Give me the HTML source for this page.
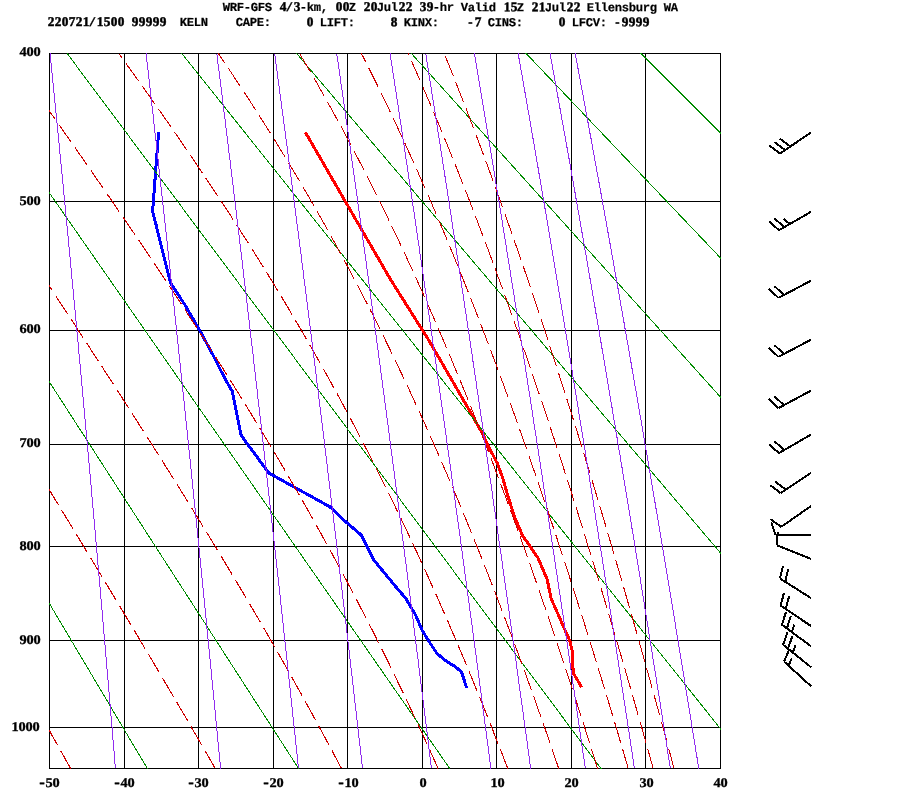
<!DOCTYPE html>
<html lang="en"><head><meta charset="utf-8"><title>WRF-GFS sounding Ellensburg WA</title>
<style>
html,body{margin:0;padding:0;background:#fff;}
body{width:900px;height:800px;overflow:hidden;}
svg{display:block;}
text{font-family:"Liberation Mono","DejaVu Sans Mono",monospace;font-weight:bold;font-size:12.8px;fill:#000;white-space:pre;}
.d{font-family:"Liberation Serif","DejaVu Serif",serif;font-size:13.3px;stroke:#000;stroke-width:.3px;}
.m{font-family:"Liberation Mono","DejaVu Sans Mono",monospace;font-size:14px;}
.td{font-family:"Liberation Serif","DejaVu Serif",serif;font-size:13.3px;stroke:#000;stroke-width:.45px;}
.tm{font-size:12.2px;stroke:#000;stroke-width:.2px;}
</style></head>
<body>
<svg width="900" height="800" viewBox="0 0 900 800" shape-rendering="crispEdges">
<rect width="900" height="800" fill="#fff"/>
<defs><clipPath id="c"><rect x="49" y="53" width="672" height="716"/></clipPath></defs>
<path stroke="#000" stroke-width="1" fill="none" d="M49 53.5H721M49 201.5H721M49 330.5H721M49 444.5H721M49 546.5H721M49 640.5H721M49 727.5H721M49 768.5H721M49.5 53V769M124.5 53V769M198.5 53V769M273.5 53V769M347.5 53V769M422.5 53V769M496.5 53V769M571.5 53V769M645.5 53V769M720.5 53V769"/>
<path fill="none" stroke="#ff0000" stroke-width="3" stroke-linejoin="round" d="M305.5 132.5 L351.3 211.8 L391.2 280.6 L428.4 339.6 L447.5 372.5 L470.0 411.5 L483.5 435.5 L487.5 444.4 L497.5 463.8 L503.0 478.8 L507.5 495.0 L515.0 518.0 L522.5 535.6 L530.0 546.2 L538.0 558.0 L547.0 578.8 L551.2 598.8 L556.2 610.0 L564.4 628.8 L570.0 641.2 L572.5 652.5 L572.5 665.0 L573.8 673.8 L581.6 687.3"/>
<path fill="none" stroke="#0000ff" stroke-width="3" stroke-linejoin="round" d="M158.6 131.8 L152.6 211.5 L156.1 225.0 L162.2 250.0 L168.5 275.0 L170.5 283.0 L185.0 305.0 L199.8 330.5 L213.0 355.0 L225.6 380.0 L232.2 391.2 L241.2 435.5 L268.8 473.0 L330.0 506.9 L345.0 521.2 L361.2 535.0 L373.8 560.0 L397.5 588.8 L405.6 598.1 L415.6 615.0 L422.5 631.0 L429.0 641.5 L437.0 653.5 L446.0 661.0 L455.0 666.5 L461.5 672.0 L466.7 688.0"/>
<path fill="none" stroke="#000" stroke-width="2" d="M811.0 132.5 L780.0 153.5M780.0 153.5 L769.4 145.6M785.1 150.0 L774.6 142.1M790.3 146.5 L779.7 138.6M811.0 211.8 L779.0 230.2M779.0 230.2 L769.1 221.5M784.4 227.1 L774.4 218.4M789.7 224.0 L783.9 218.9M811.0 280.6 L778.5 297.9M778.5 297.9 L768.8 288.9M784.0 295.0 L774.3 286.0M811.0 339.6 L778.5 356.9M778.5 356.9 L768.8 347.9M784.0 354.0 L774.3 345.0M811.0 390.6 L778.5 408.1M778.5 408.1 L768.8 399.1M784.0 405.2 L774.3 396.2M811.0 434.6 L779.0 453.1M779.0 453.1 L769.0 444.4M784.4 450.0 L774.4 441.3M811.0 472.9 L780.6 493.1M780.6 493.1 L770.1 485.1M785.8 489.7 L775.3 481.7M811.0 506.0 L781.2 526.9M781.2 526.9 L770.6 519.2M811.0 535.0 L775.6 535.0M775.6 535.0 L771.3 522.5M811.0 559.0 L776.9 545.2M776.9 545.2 L777.6 532.1M811.0 598.1 L780.0 578.5M780.0 578.5 L783.0 565.7M785.2 581.8 L788.3 569.0M811.0 626.0 L780.6 605.6M780.6 605.6 L784.0 592.8M785.7 609.1 L789.1 596.3M811.0 646.2 L781.9 624.8M781.9 624.8 L785.9 612.2M786.9 628.4 L790.8 615.8M791.9 632.1 L794.2 624.7M811.0 667.2 L783.1 644.8M783.1 644.8 L787.6 632.3M787.9 648.6 L792.4 636.2M792.8 652.5 L795.4 645.2M811.0 686.2 L784.0 661.5M784.0 661.5 L789.3 649.4M788.6 665.7 L791.7 658.5"/>
<g clip-path="url(#c)" fill="none" stroke-width="1">
<path stroke="#008b00" d="M-296.6 20.7 L156.8 784.5M-183.5 20.7 L308.9 784.5M-70.4 20.7 L460.9 784.5M42.7 20.7 L612.9 784.5M155.7 20.7 L764.9 784.5M268.8 20.7 L917.0 784.5M381.9 20.7 L1069.0 784.5M495.0 20.7 L1221.0 784.5M608.1 20.7 L1373.0 784.5"/>
<path stroke="#cd0000" stroke-width="1.1" stroke-dasharray="21.5 6.5" stroke-dashoffset="1" d="M70.6 768.5 L67.8 763.5 L65.0 758.5 L62.2 753.5 L59.4 748.5 L56.6 743.5 L53.8 738.5 L51.0 733.5 L48.2 728.5 L45.4 723.5 L42.6 718.5 L39.7 713.5 L36.9 708.5 L34.1 703.5 L31.3 698.5 L28.5 693.5 L25.7 688.5 L22.8 683.5 L20.0 678.5 L17.2 673.5 L14.4 668.5 L11.6 663.5 L8.7 658.5 L5.9 653.5 L3.1 648.5 L0.3 643.5 L-2.6 638.5 L-5.4 633.5 L-8.2 628.5 L-11.0 623.5 L-13.9 618.5 L-16.7 613.5 L-19.5 608.5 L-22.3 603.5 L-25.2 598.5 L-28.0 593.5 L-30.8 588.5 L-33.7 583.5 L-36.5 578.5 L-39.3 573.5 L-42.2 568.5 L-45.0 563.5 L-47.8 558.5 L-50.6 553.5 L-53.5 548.5 L-56.3 543.5 L-59.1 538.5 L-62.0 533.5 L-64.8 528.5 L-67.6 523.5 L-70.5 518.5 L-73.3 513.5 L-76.2 508.5 L-79.0 503.5 L-81.8 498.5 L-84.7 493.5 L-87.5 488.5 L-90.3 483.5 L-93.2 478.5 L-96.0 473.5 L-98.8 468.5 L-101.7 463.5 L-104.5 458.5 L-107.4 453.5 L-110.2 448.5 L-113.0 443.5 L-115.9 438.5 L-118.7 433.5 L-121.5 428.5 L-124.4 423.5 L-127.2 418.5 L-130.1 413.5 L-132.9 408.5 L-135.7 403.5 L-138.6 398.5 L-141.4 393.5 L-144.3 388.5 L-147.1 383.5 L-149.9 378.5 L-152.8 373.5 L-155.6 368.5 L-158.4 363.5 L-161.3 358.5 L-164.1 353.5 L-167.0 348.5 L-169.8 343.5 L-172.6 338.5 L-175.5 333.5 L-178.3 328.5 L-181.2 323.5 L-184.0 318.5 L-186.8 313.5 L-189.7 308.5 L-192.5 303.5 L-195.4 298.5 L-198.2 293.5 L-201.0 288.5 L-203.9 283.5 L-206.7 278.5 L-209.6 273.5 L-212.4 268.5 L-215.2 263.5 L-218.1 258.5 L-220.9 253.5 L-223.8 248.5 L-226.6 243.5 L-229.5 238.5 L-232.3 233.5 L-235.1 228.5 L-238.0 223.5 L-240.8 218.5 L-243.7 213.5 L-246.5 208.5 L-249.3 203.5 L-252.2 198.5 L-255.0 193.5 L-257.9 188.5 L-260.7 183.5 L-263.5 178.5 L-266.4 173.5 L-269.2 168.5 L-272.1 163.5 L-274.9 158.5 L-277.7 153.5 L-280.6 148.5 L-283.4 143.5 L-286.3 138.5 L-289.1 133.5 L-292.0 128.5 L-294.8 123.5 L-297.6 118.5 L-300.5 113.5 L-303.3 108.5 L-306.2 103.5 L-309.0 98.5 L-311.8 93.5 L-314.7 88.5 L-317.5 83.5 L-320.4 78.5 L-323.2 73.5 L-326.0 68.5 L-328.9 63.5 L-331.7 58.5 L-334.6 53.5M215.2 768.5 L212.4 763.5 L209.5 758.5 L206.6 753.5 L203.7 748.5 L200.8 743.5 L197.9 738.5 L195.0 733.5 L192.1 728.5 L189.2 723.5 L186.3 718.5 L183.4 713.5 L180.4 708.5 L177.5 703.5 L174.6 698.5 L171.6 693.5 L168.7 688.5 L165.7 683.5 L162.8 678.5 L159.8 673.5 L156.9 668.5 L153.9 663.5 L151.0 658.5 L148.0 653.5 L145.0 648.5 L142.0 643.5 L139.1 638.5 L136.1 633.5 L133.1 628.5 L130.1 623.5 L127.1 618.5 L124.1 613.5 L121.1 608.5 L118.1 603.5 L115.1 598.5 L112.1 593.5 L109.1 588.5 L106.1 583.5 L103.1 578.5 L100.1 573.5 L97.0 568.5 L94.0 563.5 L91.0 558.5 L88.0 553.5 L84.9 548.5 L81.9 543.5 L78.9 538.5 L75.8 533.5 L72.8 528.5 L69.8 523.5 L66.7 518.5 L63.7 513.5 L60.6 508.5 L57.6 503.5 L54.5 498.5 L51.5 493.5 L48.4 488.5 L45.4 483.5 L42.3 478.5 L39.3 473.5 L36.2 468.5 L33.2 463.5 L30.1 458.5 L27.1 453.5 L24.0 448.5 L20.9 443.5 L17.9 438.5 L14.8 433.5 L11.7 428.5 L8.7 423.5 L5.6 418.5 L2.5 413.5 L-0.5 408.5 L-3.6 403.5 L-6.7 398.5 L-9.8 393.5 L-12.8 388.5 L-15.9 383.5 L-19.0 378.5 L-22.1 373.5 L-25.1 368.5 L-28.2 363.5 L-31.3 358.5 L-34.4 353.5 L-37.5 348.5 L-40.5 343.5 L-43.6 338.5 L-46.7 333.5 L-49.8 328.5 L-52.9 323.5 L-56.0 318.5 L-59.0 313.5 L-62.1 308.5 L-65.2 303.5 L-68.3 298.5 L-71.4 293.5 L-74.5 288.5 L-77.6 283.5 L-80.6 278.5 L-83.7 273.5 L-86.8 268.5 L-89.9 263.5 L-93.0 258.5 L-96.1 253.5 L-99.2 248.5 L-102.3 243.5 L-105.4 238.5 L-108.5 233.5 L-111.5 228.5 L-114.6 223.5 L-117.7 218.5 L-120.8 213.5 L-123.9 208.5 L-127.0 203.5 L-130.1 198.5 L-133.2 193.5 L-136.3 188.5 L-139.4 183.5 L-142.5 178.5 L-145.6 173.5 L-148.6 168.5 L-151.7 163.5 L-154.8 158.5 L-157.9 153.5 L-161.0 148.5 L-164.1 143.5 L-167.2 138.5 L-170.3 133.5 L-173.4 128.5 L-176.5 123.5 L-179.6 118.5 L-182.7 113.5 L-185.8 108.5 L-188.9 103.5 L-192.0 98.5 L-195.1 93.5 L-198.1 88.5 L-201.2 83.5 L-204.3 78.5 L-207.4 73.5 L-210.5 68.5 L-213.6 63.5 L-216.7 58.5 L-219.8 53.5M341.5 768.5 L338.8 763.5 L336.2 758.5 L333.5 753.5 L330.9 748.5 L328.2 743.5 L325.5 738.5 L322.8 733.5 L320.1 728.5 L317.4 723.5 L314.7 718.5 L311.9 713.5 L309.2 708.5 L306.4 703.5 L303.7 698.5 L300.9 693.5 L298.1 688.5 L295.3 683.5 L292.5 678.5 L289.7 673.5 L286.9 668.5 L284.1 663.5 L281.2 658.5 L278.4 653.5 L275.5 648.5 L272.6 643.5 L269.8 638.5 L266.9 633.5 L264.0 628.5 L261.1 623.5 L258.2 618.5 L255.2 613.5 L252.3 608.5 L249.4 603.5 L246.4 598.5 L243.5 593.5 L240.5 588.5 L237.5 583.5 L234.5 578.5 L231.5 573.5 L228.5 568.5 L225.5 563.5 L222.5 558.5 L219.5 553.5 L216.5 548.5 L213.4 543.5 L210.4 538.5 L207.3 533.5 L204.3 528.5 L201.2 523.5 L198.1 518.5 L195.1 513.5 L192.0 508.5 L188.9 503.5 L185.8 498.5 L182.7 493.5 L179.6 488.5 L176.4 483.5 L173.3 478.5 L170.2 473.5 L167.0 468.5 L163.9 463.5 L160.7 458.5 L157.6 453.5 L154.4 448.5 L151.3 443.5 L148.1 438.5 L144.9 433.5 L141.7 428.5 L138.5 423.5 L135.3 418.5 L132.1 413.5 L128.9 408.5 L125.7 403.5 L122.5 398.5 L119.3 393.5 L116.1 388.5 L112.9 383.5 L109.6 378.5 L106.4 373.5 L103.2 368.5 L99.9 363.5 L96.7 358.5 L93.4 353.5 L90.2 348.5 L86.9 343.5 L83.7 338.5 L80.4 333.5 L77.2 328.5 L73.9 323.5 L70.6 318.5 L67.4 313.5 L64.1 308.5 L60.8 303.5 L57.5 298.5 L54.2 293.5 L51.0 288.5 L47.7 283.5 L44.4 278.5 L41.1 273.5 L37.8 268.5 L34.5 263.5 L31.2 258.5 L27.9 253.5 L24.6 248.5 L21.3 243.5 L18.0 238.5 L14.7 233.5 L11.4 228.5 L8.1 223.5 L4.7 218.5 L1.4 213.5 L-1.9 208.5 L-5.2 203.5 L-8.5 198.5 L-11.8 193.5 L-15.2 188.5 L-18.5 183.5 L-21.8 178.5 L-25.1 173.5 L-28.5 168.5 L-31.8 163.5 L-35.1 158.5 L-38.4 153.5 L-41.8 148.5 L-45.1 143.5 L-48.4 138.5 L-51.8 133.5 L-55.1 128.5 L-58.4 123.5 L-61.8 118.5 L-65.1 113.5 L-68.4 108.5 L-71.8 103.5 L-75.1 98.5 L-78.5 93.5 L-81.8 88.5 L-85.1 83.5 L-88.5 78.5 L-91.8 73.5 L-95.2 68.5 L-98.5 63.5 L-101.8 58.5 L-105.2 53.5M438.1 768.5 L435.8 763.5 L433.6 758.5 L431.3 753.5 L429.1 748.5 L426.8 743.5 L424.5 738.5 L422.2 733.5 L419.9 728.5 L417.6 723.5 L415.2 718.5 L412.9 713.5 L410.5 708.5 L408.2 703.5 L405.8 698.5 L403.4 693.5 L401.0 688.5 L398.6 683.5 L396.2 678.5 L393.8 673.5 L391.3 668.5 L388.9 663.5 L386.4 658.5 L383.9 653.5 L381.4 648.5 L378.9 643.5 L376.4 638.5 L373.9 633.5 L371.4 628.5 L368.8 623.5 L366.3 618.5 L363.7 613.5 L361.1 608.5 L358.5 603.5 L355.9 598.5 L353.3 593.5 L350.7 588.5 L348.0 583.5 L345.4 578.5 L342.7 573.5 L340.0 568.5 L337.3 563.5 L334.6 558.5 L331.9 553.5 L329.2 548.5 L326.4 543.5 L323.7 538.5 L320.9 533.5 L318.1 528.5 L315.4 523.5 L312.6 518.5 L309.7 513.5 L306.9 508.5 L304.1 503.5 L301.2 498.5 L298.4 493.5 L295.5 488.5 L292.6 483.5 L289.7 478.5 L286.8 473.5 L283.9 468.5 L280.9 463.5 L278.0 458.5 L275.0 453.5 L272.0 448.5 L269.0 443.5 L266.0 438.5 L263.0 433.5 L260.0 428.5 L257.0 423.5 L253.9 418.5 L250.9 413.5 L247.8 408.5 L244.7 403.5 L241.7 398.5 L238.6 393.5 L235.4 388.5 L232.3 383.5 L229.2 378.5 L226.0 373.5 L222.9 368.5 L219.7 363.5 L216.5 358.5 L213.4 353.5 L210.2 348.5 L207.0 343.5 L203.7 338.5 L200.5 333.5 L197.3 328.5 L194.0 323.5 L190.8 318.5 L187.5 313.5 L184.2 308.5 L181.0 303.5 L177.7 298.5 L174.4 293.5 L171.1 288.5 L167.7 283.5 L164.4 278.5 L161.1 273.5 L157.8 268.5 L154.4 263.5 L151.0 258.5 L147.7 253.5 L144.3 248.5 L140.9 243.5 L137.6 238.5 L134.2 233.5 L130.8 228.5 L127.4 223.5 L123.9 218.5 L120.5 213.5 L117.1 208.5 L113.7 203.5 L110.2 198.5 L106.8 193.5 L103.4 188.5 L99.9 183.5 L96.4 178.5 L93.0 173.5 L89.5 168.5 L86.0 163.5 L82.6 158.5 L79.1 153.5 L75.6 148.5 L72.1 143.5 L68.6 138.5 L65.1 133.5 L61.6 128.5 L58.1 123.5 L54.6 118.5 L51.1 113.5 L47.5 108.5 L44.0 103.5 L40.5 98.5 L37.0 93.5 L33.4 88.5 L29.9 83.5 L26.4 78.5 L22.8 73.5 L19.3 68.5 L15.7 63.5 L12.2 58.5 L8.6 53.5M507.7 768.5 L505.8 763.5 L503.9 758.5 L502.0 753.5 L500.0 748.5 L498.1 743.5 L496.1 738.5 L494.1 733.5 L492.2 728.5 L490.2 723.5 L488.2 718.5 L486.2 713.5 L484.2 708.5 L482.2 703.5 L480.2 698.5 L478.1 693.5 L476.1 688.5 L474.1 683.5 L472.0 678.5 L469.9 673.5 L467.9 668.5 L465.8 663.5 L463.7 658.5 L461.6 653.5 L459.5 648.5 L457.3 643.5 L455.2 638.5 L453.1 633.5 L450.9 628.5 L448.8 623.5 L446.6 618.5 L444.4 613.5 L442.2 608.5 L440.0 603.5 L437.8 598.5 L435.6 593.5 L433.3 588.5 L431.1 583.5 L428.8 578.5 L426.6 573.5 L424.3 568.5 L422.0 563.5 L419.7 558.5 L417.4 553.5 L415.1 548.5 L412.8 543.5 L410.4 538.5 L408.1 533.5 L405.7 528.5 L403.3 523.5 L400.9 518.5 L398.5 513.5 L396.1 508.5 L393.7 503.5 L391.2 498.5 L388.8 493.5 L386.3 488.5 L383.8 483.5 L381.3 478.5 L378.8 473.5 L376.3 468.5 L373.8 463.5 L371.3 458.5 L368.7 453.5 L366.1 448.5 L363.5 443.5 L360.9 438.5 L358.3 433.5 L355.7 428.5 L353.1 423.5 L350.4 418.5 L347.8 413.5 L345.1 408.5 L342.4 403.5 L339.7 398.5 L337.0 393.5 L334.2 388.5 L331.5 383.5 L328.7 378.5 L325.9 373.5 L323.1 368.5 L320.3 363.5 L317.5 358.5 L314.7 353.5 L311.8 348.5 L308.9 343.5 L306.1 338.5 L303.2 333.5 L300.3 328.5 L297.3 323.5 L294.4 318.5 L291.4 313.5 L288.5 308.5 L285.5 303.5 L282.5 298.5 L279.5 293.5 L276.4 288.5 L273.4 283.5 L270.3 278.5 L267.3 273.5 L264.2 268.5 L261.1 263.5 L257.9 258.5 L254.8 253.5 L251.7 248.5 L248.5 243.5 L245.3 238.5 L242.1 233.5 L238.9 228.5 L235.7 223.5 L232.5 218.5 L229.2 213.5 L226.0 208.5 L222.7 203.5 L219.4 198.5 L216.1 193.5 L212.8 188.5 L209.5 183.5 L206.1 178.5 L202.8 173.5 L199.4 168.5 L196.0 163.5 L192.6 158.5 L189.2 153.5 L185.8 148.5 L182.4 143.5 L178.9 138.5 L175.5 133.5 L172.0 128.5 L168.6 123.5 L165.1 118.5 L161.6 113.5 L158.1 108.5 L154.5 103.5 L151.0 98.5 L147.5 93.5 L143.9 88.5 L140.4 83.5 L136.8 78.5 L133.2 73.5 L129.6 68.5 L126.0 63.5 L122.4 58.5 L118.8 53.5"/>
<path stroke="#cd0000" stroke-dasharray="21.5 6.5" stroke-dashoffset="1" d="M558.7 768.5 L557.0 763.5 L555.3 758.5 L553.6 753.5 L551.9 748.5 L550.2 743.5 L548.5 738.5 L546.7 733.5 L545.0 728.5 L543.2 723.5 L541.5 718.5 L539.7 713.5 L537.9 708.5 L536.2 703.5 L534.4 698.5 L532.6 693.5 L530.8 688.5 L529.0 683.5 L527.2 678.5 L525.4 673.5 L523.6 668.5 L521.8 663.5 L519.9 658.5 L518.1 653.5 L516.3 648.5 L514.4 643.5 L512.5 638.5 L510.7 633.5 L508.8 628.5 L506.9 623.5 L505.0 618.5 L503.1 613.5 L501.2 608.5 L499.3 603.5 L497.4 598.5 L495.5 593.5 L493.5 588.5 L491.6 583.5 L489.6 578.5 L487.7 573.5 L485.7 568.5 L483.7 563.5 L481.8 558.5 L479.8 553.5 L477.8 548.5 L475.8 543.5 L473.7 538.5 L471.7 533.5 L469.7 528.5 L467.6 523.5 L465.6 518.5 L463.5 513.5 L461.4 508.5 L459.4 503.5 L457.3 498.5 L455.2 493.5 L453.1 488.5 L450.9 483.5 L448.8 478.5 L446.7 473.5 L444.5 468.5 L442.3 463.5 L440.2 458.5 L438.0 453.5 L435.8 448.5 L433.6 443.5 L431.4 438.5 L429.1 433.5 L426.9 428.5 L424.7 423.5 L422.4 418.5 L420.1 413.5 L417.8 408.5 L415.5 403.5 L413.2 398.5 L410.9 393.5 L408.6 388.5 L406.2 383.5 L403.9 378.5 L401.5 373.5 L399.1 368.5 L396.7 363.5 L394.3 358.5 L391.9 353.5 L389.5 348.5 L387.0 343.5 L384.6 338.5 L382.1 333.5 L379.6 328.5 L377.1 323.5 L374.6 318.5 L372.1 313.5 L369.5 308.5 L367.0 303.5 L364.4 298.5 L361.8 293.5 L359.2 288.5 L356.6 283.5 L353.9 278.5 L351.3 273.5 L348.6 268.5 L346.0 263.5 L343.3 258.5 L340.6 253.5 L337.8 248.5 L335.1 243.5 L332.3 238.5 L329.6 233.5 L326.8 228.5 L324.0 223.5 L321.1 218.5 L318.3 213.5 L315.4 208.5 L312.6 203.5 L309.7 198.5 L306.8 193.5 L303.9 188.5 L300.9 183.5 L298.0 178.5 L295.0 173.5 L292.0 168.5 L289.0 163.5 L286.0 158.5 L282.9 153.5 L279.8 148.5 L276.8 143.5 L273.7 138.5 L270.6 133.5 L267.4 128.5 L264.3 123.5 L261.1 118.5 L257.9 113.5 L254.7 108.5 L251.5 103.5 L248.3 98.5 L245.0 93.5 L241.7 88.5 L238.4 83.5 L235.1 78.5 L231.8 73.5 L228.5 68.5 L225.1 63.5 L221.7 58.5 L218.3 53.5M597.6 768.5 L596.0 763.5 L594.5 758.5 L592.9 753.5 L591.3 748.5 L589.7 743.5 L588.2 738.5 L586.6 733.5 L585.0 728.5 L583.4 723.5 L581.8 718.5 L580.2 713.5 L578.6 708.5 L577.0 703.5 L575.4 698.5 L573.7 693.5 L572.1 688.5 L570.5 683.5 L568.8 678.5 L567.2 673.5 L565.5 668.5 L563.9 663.5 L562.2 658.5 L560.6 653.5 L558.9 648.5 L557.2 643.5 L555.6 638.5 L553.9 633.5 L552.2 628.5 L550.5 623.5 L548.8 618.5 L547.1 613.5 L545.4 608.5 L543.6 603.5 L541.9 598.5 L540.2 593.5 L538.5 588.5 L536.7 583.5 L535.0 578.5 L533.2 573.5 L531.5 568.5 L529.7 563.5 L527.9 558.5 L526.1 553.5 L524.4 548.5 L522.6 543.5 L520.8 538.5 L519.0 533.5 L517.2 528.5 L515.3 523.5 L513.5 518.5 L511.7 513.5 L509.9 508.5 L508.0 503.5 L506.2 498.5 L504.3 493.5 L502.4 488.5 L500.6 483.5 L498.7 478.5 L496.8 473.5 L494.9 468.5 L493.0 463.5 L491.1 458.5 L489.2 453.5 L487.2 448.5 L485.3 443.5 L483.3 438.5 L481.4 433.5 L479.4 428.5 L477.5 423.5 L475.5 418.5 L473.5 413.5 L471.5 408.5 L469.5 403.5 L467.5 398.5 L465.5 393.5 L463.4 388.5 L461.4 383.5 L459.3 378.5 L457.3 373.5 L455.2 368.5 L453.1 363.5 L451.1 358.5 L449.0 353.5 L446.8 348.5 L444.7 343.5 L442.6 338.5 L440.5 333.5 L438.3 328.5 L436.2 323.5 L434.0 318.5 L431.8 313.5 L429.6 308.5 L427.4 303.5 L425.2 298.5 L423.0 293.5 L420.7 288.5 L418.5 283.5 L416.2 278.5 L413.9 273.5 L411.6 268.5 L409.3 263.5 L407.0 258.5 L404.7 253.5 L402.4 248.5 L400.0 243.5 L397.7 238.5 L395.3 233.5 L392.9 228.5 L390.5 223.5 L388.1 218.5 L385.7 213.5 L383.2 208.5 L380.7 203.5 L378.3 198.5 L375.8 193.5 L373.3 188.5 L370.8 183.5 L368.2 178.5 L365.7 173.5 L363.1 168.5 L360.6 163.5 L358.0 158.5 L355.3 153.5 L352.7 148.5 L350.1 143.5 L347.4 138.5 L344.7 133.5 L342.1 128.5 L339.3 123.5 L336.6 118.5 L333.9 113.5 L331.1 108.5 L328.3 103.5 L325.5 98.5 L322.7 93.5 L319.9 88.5 L317.1 83.5 L314.2 78.5 L311.3 73.5 L308.4 68.5 L305.5 63.5 L302.5 58.5 L299.6 53.5M628.3 768.5 L626.8 763.5 L625.3 758.5 L623.9 753.5 L622.4 748.5 L620.9 743.5 L619.4 738.5 L618.0 733.5 L616.5 728.5 L615.0 723.5 L613.5 718.5 L612.0 713.5 L610.5 708.5 L609.0 703.5 L607.5 698.5 L606.0 693.5 L604.4 688.5 L602.9 683.5 L601.4 678.5 L599.9 673.5 L598.3 668.5 L596.8 663.5 L595.3 658.5 L593.7 653.5 L592.2 648.5 L590.6 643.5 L589.1 638.5 L587.5 633.5 L585.9 628.5 L584.4 623.5 L582.8 618.5 L581.2 613.5 L579.6 608.5 L578.0 603.5 L576.4 598.5 L574.8 593.5 L573.2 588.5 L571.6 583.5 L570.0 578.5 L568.4 573.5 L566.8 568.5 L565.2 563.5 L563.5 558.5 L561.9 553.5 L560.3 548.5 L558.6 543.5 L557.0 538.5 L555.3 533.5 L553.7 528.5 L552.0 523.5 L550.3 518.5 L548.7 513.5 L547.0 508.5 L545.3 503.5 L543.6 498.5 L541.9 493.5 L540.2 488.5 L538.5 483.5 L536.8 478.5 L535.1 473.5 L533.3 468.5 L531.6 463.5 L529.9 458.5 L528.1 453.5 L526.4 448.5 L524.6 443.5 L522.9 438.5 L521.1 433.5 L519.3 428.5 L517.5 423.5 L515.8 418.5 L514.0 413.5 L512.2 408.5 L510.4 403.5 L508.5 398.5 L506.7 393.5 L504.9 388.5 L503.1 383.5 L501.2 378.5 L499.4 373.5 L497.5 368.5 L495.7 363.5 L493.8 358.5 L491.9 353.5 L490.0 348.5 L488.1 343.5 L486.2 338.5 L484.3 333.5 L482.4 328.5 L480.5 323.5 L478.6 318.5 L476.6 313.5 L474.7 308.5 L472.7 303.5 L470.7 298.5 L468.8 293.5 L466.8 288.5 L464.8 283.5 L462.8 278.5 L460.8 273.5 L458.8 268.5 L456.7 263.5 L454.7 258.5 L452.7 253.5 L450.6 248.5 L448.5 243.5 L446.5 238.5 L444.4 233.5 L442.3 228.5 L440.2 223.5 L438.1 218.5 L435.9 213.5 L433.8 208.5 L431.7 203.5 L429.5 198.5 L427.3 193.5 L425.1 188.5 L422.9 183.5 L420.7 178.5 L418.5 173.5 L416.3 168.5 L414.1 163.5 L411.8 158.5 L409.5 153.5 L407.3 148.5 L405.0 143.5 L402.7 138.5 L400.4 133.5 L398.0 128.5 L395.7 123.5 L393.3 118.5 L391.0 113.5 L388.6 108.5 L386.2 103.5 L383.8 98.5 L381.4 93.5 L378.9 88.5 L376.5 83.5 L374.0 78.5 L371.5 73.5 L369.0 68.5 L366.5 63.5 L364.0 58.5 L361.4 53.5M653.2 768.5 L651.8 763.5 L650.4 758.5 L649.0 753.5 L647.6 748.5 L646.2 743.5 L644.8 738.5 L643.4 733.5 L642.0 728.5 L640.6 723.5 L639.2 718.5 L637.7 713.5 L636.3 708.5 L634.9 703.5 L633.4 698.5 L632.0 693.5 L630.6 688.5 L629.1 683.5 L627.7 678.5 L626.2 673.5 L624.8 668.5 L623.3 663.5 L621.9 658.5 L620.4 653.5 L618.9 648.5 L617.5 643.5 L616.0 638.5 L614.5 633.5 L613.0 628.5 L611.6 623.5 L610.1 618.5 L608.6 613.5 L607.1 608.5 L605.6 603.5 L604.1 598.5 L602.6 593.5 L601.1 588.5 L599.6 583.5 L598.1 578.5 L596.5 573.5 L595.0 568.5 L593.5 563.5 L592.0 558.5 L590.4 553.5 L588.9 548.5 L587.3 543.5 L585.8 538.5 L584.3 533.5 L582.7 528.5 L581.1 523.5 L579.6 518.5 L578.0 513.5 L576.4 508.5 L574.9 503.5 L573.3 498.5 L571.7 493.5 L570.1 488.5 L568.5 483.5 L566.9 478.5 L565.3 473.5 L563.7 468.5 L562.1 463.5 L560.5 458.5 L558.9 453.5 L557.2 448.5 L555.6 443.5 L554.0 438.5 L552.3 433.5 L550.7 428.5 L549.0 423.5 L547.4 418.5 L545.7 413.5 L544.1 408.5 L542.4 403.5 L540.7 398.5 L539.0 393.5 L537.3 388.5 L535.6 383.5 L533.9 378.5 L532.2 373.5 L530.5 368.5 L528.8 363.5 L527.1 358.5 L525.4 353.5 L523.6 348.5 L521.9 343.5 L520.2 338.5 L518.4 333.5 L516.7 328.5 L514.9 323.5 L513.1 318.5 L511.3 313.5 L509.6 308.5 L507.8 303.5 L506.0 298.5 L504.2 293.5 L502.4 288.5 L500.6 283.5 L498.7 278.5 L496.9 273.5 L495.1 268.5 L493.2 263.5 L491.4 258.5 L489.5 253.5 L487.7 248.5 L485.8 243.5 L483.9 238.5 L482.0 233.5 L480.1 228.5 L478.2 223.5 L476.3 218.5 L474.4 213.5 L472.5 208.5 L470.5 203.5 L468.6 198.5 L466.7 193.5 L464.7 188.5 L462.7 183.5 L460.7 178.5 L458.8 173.5 L456.8 168.5 L454.8 163.5 L452.8 158.5 L450.7 153.5 L448.7 148.5 L446.7 143.5 L444.6 138.5 L442.5 133.5 L440.5 128.5 L438.4 123.5 L436.3 118.5 L434.2 113.5 L432.1 108.5 L430.0 103.5 L427.8 98.5 L425.7 93.5 L423.5 88.5 L421.4 83.5 L419.2 78.5 L417.0 73.5 L414.8 68.5 L412.6 63.5 L410.4 58.5 L408.1 53.5M674.1 768.5 L672.7 763.5 L671.4 758.5 L670.0 753.5 L668.7 748.5 L667.3 743.5 L666.0 738.5 L664.6 733.5 L663.2 728.5 L661.9 723.5 L660.5 718.5 L659.1 713.5 L657.8 708.5 L656.4 703.5 L655.0 698.5 L653.6 693.5 L652.2 688.5 L650.9 683.5 L649.5 678.5 L648.1 673.5 L646.7 668.5 L645.3 663.5 L643.9 658.5 L642.5 653.5 L641.1 648.5 L639.7 643.5 L638.3 638.5 L636.9 633.5 L635.4 628.5 L634.0 623.5 L632.6 618.5 L631.2 613.5 L629.7 608.5 L628.3 603.5 L626.9 598.5 L625.4 593.5 L624.0 588.5 L622.6 583.5 L621.1 578.5 L619.7 573.5 L618.2 568.5 L616.7 563.5 L615.3 558.5 L613.8 553.5 L612.4 548.5 L610.9 543.5 L609.4 538.5 L607.9 533.5 L606.5 528.5 L605.0 523.5 L603.5 518.5 L602.0 513.5 L600.5 508.5 L599.0 503.5 L597.5 498.5 L596.0 493.5 L594.5 488.5 L593.0 483.5 L591.5 478.5 L589.9 473.5 L588.4 468.5 L586.9 463.5 L585.4 458.5 L583.8 453.5 L582.3 448.5 L580.7 443.5 L579.2 438.5 L577.7 433.5 L576.1 428.5 L574.5 423.5 L573.0 418.5 L571.4 413.5 L569.8 408.5 L568.3 403.5 L566.7 398.5 L565.1 393.5 L563.5 388.5 L561.9 383.5 L560.3 378.5 L558.7 373.5 L557.1 368.5 L555.5 363.5 L553.9 358.5 L552.3 353.5 L550.6 348.5 L549.0 343.5 L547.4 338.5 L545.7 333.5 L544.1 328.5 L542.4 323.5 L540.8 318.5 L539.1 313.5 L537.5 308.5 L535.8 303.5 L534.1 298.5 L532.4 293.5 L530.7 288.5 L529.1 283.5 L527.4 278.5 L525.7 273.5 L524.0 268.5 L522.2 263.5 L520.5 258.5 L518.8 253.5 L517.1 248.5 L515.3 243.5 L513.6 238.5 L511.8 233.5 L510.1 228.5 L508.3 223.5 L506.6 218.5 L504.8 213.5 L503.0 208.5 L501.2 203.5 L499.4 198.5 L497.6 193.5 L495.8 188.5 L494.0 183.5 L492.2 178.5 L490.4 173.5 L488.5 168.5 L486.7 163.5 L484.8 158.5 L483.0 153.5 L481.1 148.5 L479.3 143.5 L477.4 138.5 L475.5 133.5 L473.6 128.5 L471.7 123.5 L469.8 118.5 L467.9 113.5 L466.0 108.5 L464.0 103.5 L462.1 98.5 L460.1 93.5 L458.2 88.5 L456.2 83.5 L454.2 78.5 L452.3 73.5 L450.3 68.5 L448.3 63.5 L446.2 58.5 L444.2 53.5"/>
<path stroke="#912cee" d="M115.4 768.5 L115.0 763.5 L114.6 758.5 L114.2 753.5 L113.8 748.5 L113.4 743.5 L112.9 738.5 L112.5 733.5 L112.1 728.5 L111.7 723.5 L111.3 718.5 L110.8 713.5 L110.4 708.5 L110.0 703.5 L109.6 698.5 L109.1 693.5 L108.7 688.5 L108.3 683.5 L107.9 678.5 L107.4 673.5 L107.0 668.5 L106.6 663.5 L106.2 658.5 L105.7 653.5 L105.3 648.5 L104.9 643.5 L104.4 638.5 L104.0 633.5 L103.6 628.5 L103.1 623.5 L102.7 618.5 L102.3 613.5 L101.9 608.5 L101.4 603.5 L101.0 598.5 L100.5 593.5 L100.1 588.5 L99.7 583.5 L99.2 578.5 L98.8 573.5 L98.4 568.5 L97.9 563.5 L97.5 558.5 L97.1 553.5 L96.6 548.5 L96.2 543.5 L95.7 538.5 L95.3 533.5 L94.9 528.5 L94.4 523.5 L94.0 518.5 L93.5 513.5 L93.1 508.5 L92.6 503.5 L92.2 498.5 L91.7 493.5 L91.3 488.5 L90.9 483.5 L90.4 478.5 L90.0 473.5 L89.5 468.5 L89.1 463.5 L88.6 458.5 L88.2 453.5 L87.7 448.5 L87.3 443.5 L86.8 438.5 L86.4 433.5 L85.9 428.5 L85.5 423.5 L85.0 418.5 L84.5 413.5 L84.1 408.5 L83.6 403.5 L83.2 398.5 L82.7 393.5 L82.3 388.5 L81.8 383.5 L81.3 378.5 L80.9 373.5 L80.4 368.5 L80.0 363.5 L79.5 358.5 L79.0 353.5 L78.6 348.5 L78.1 343.5 L77.7 338.5 L77.2 333.5 L76.7 328.5 L76.3 323.5 L75.8 318.5 L75.3 313.5 L74.9 308.5 L74.4 303.5 L73.9 298.5 L73.5 293.5 L73.0 288.5 L72.5 283.5 L72.0 278.5 L71.6 273.5 L71.1 268.5 L70.6 263.5 L70.1 258.5 L69.7 253.5 L69.2 248.5 L68.7 243.5 L68.2 238.5 L67.8 233.5 L67.3 228.5 L66.8 223.5 L66.3 218.5 L65.8 213.5 L65.4 208.5 L64.9 203.5 L64.4 198.5 L63.9 193.5 L63.4 188.5 L63.0 183.5 L62.5 178.5 L62.0 173.5 L61.5 168.5 L61.0 163.5 L60.5 158.5 L60.0 153.5 L59.5 148.5 L59.1 143.5 L58.6 138.5 L58.1 133.5 L57.6 128.5 L57.1 123.5 L56.6 118.5 L56.1 113.5 L55.6 108.5 L55.1 103.5 L54.6 98.5 L54.1 93.5 L53.6 88.5 L53.1 83.5 L52.6 78.5 L52.1 73.5 L51.6 68.5 L51.1 63.5 L50.6 58.5 L50.1 53.5M220.6 768.5 L220.1 763.5 L219.7 758.5 L219.2 753.5 L218.7 748.5 L218.2 743.5 L217.7 738.5 L217.3 733.5 L216.8 728.5 L216.3 723.5 L215.8 718.5 L215.3 713.5 L214.9 708.5 L214.4 703.5 L213.9 698.5 L213.4 693.5 L212.9 688.5 L212.4 683.5 L211.9 678.5 L211.5 673.5 L211.0 668.5 L210.5 663.5 L210.0 658.5 L209.5 653.5 L209.0 648.5 L208.5 643.5 L208.0 638.5 L207.5 633.5 L207.0 628.5 L206.6 623.5 L206.1 618.5 L205.6 613.5 L205.1 608.5 L204.6 603.5 L204.1 598.5 L203.6 593.5 L203.1 588.5 L202.6 583.5 L202.1 578.5 L201.6 573.5 L201.1 568.5 L200.6 563.5 L200.1 558.5 L199.6 553.5 L199.1 548.5 L198.6 543.5 L198.1 538.5 L197.6 533.5 L197.1 528.5 L196.6 523.5 L196.1 518.5 L195.6 513.5 L195.1 508.5 L194.5 503.5 L194.0 498.5 L193.5 493.5 L193.0 488.5 L192.5 483.5 L192.0 478.5 L191.5 473.5 L191.0 468.5 L190.5 463.5 L190.0 458.5 L189.4 453.5 L188.9 448.5 L188.4 443.5 L187.9 438.5 L187.4 433.5 L186.9 428.5 L186.3 423.5 L185.8 418.5 L185.3 413.5 L184.8 408.5 L184.3 403.5 L183.8 398.5 L183.2 393.5 L182.7 388.5 L182.2 383.5 L181.7 378.5 L181.1 373.5 L180.6 368.5 L180.1 363.5 L179.6 358.5 L179.0 353.5 L178.5 348.5 L178.0 343.5 L177.4 338.5 L176.9 333.5 L176.4 328.5 L175.9 323.5 L175.3 318.5 L174.8 313.5 L174.3 308.5 L173.7 303.5 L173.2 298.5 L172.7 293.5 L172.1 288.5 L171.6 283.5 L171.0 278.5 L170.5 273.5 L170.0 268.5 L169.4 263.5 L168.9 258.5 L168.3 253.5 L167.8 248.5 L167.3 243.5 L166.7 238.5 L166.2 233.5 L165.6 228.5 L165.1 223.5 L164.5 218.5 L164.0 213.5 L163.4 208.5 L162.9 203.5 L162.3 198.5 L161.8 193.5 L161.2 188.5 L160.7 183.5 L160.1 178.5 L159.6 173.5 L159.0 168.5 L158.5 163.5 L157.9 158.5 L157.4 153.5 L156.8 148.5 L156.3 143.5 L155.7 138.5 L155.1 133.5 L154.6 128.5 L154.0 123.5 L153.5 118.5 L152.9 113.5 L152.3 108.5 L151.8 103.5 L151.2 98.5 L150.6 93.5 L150.1 88.5 L149.5 83.5 L148.9 78.5 L148.4 73.5 L147.8 68.5 L147.2 63.5 L146.6 58.5 L146.1 53.5M298.5 768.5 L298.0 763.5 L297.5 758.5 L296.9 753.5 L296.4 748.5 L295.9 743.5 L295.4 738.5 L294.8 733.5 L294.3 728.5 L293.8 723.5 L293.2 718.5 L292.7 713.5 L292.2 708.5 L291.6 703.5 L291.1 698.5 L290.6 693.5 L290.1 688.5 L289.5 683.5 L289.0 678.5 L288.4 673.5 L287.9 668.5 L287.4 663.5 L286.8 658.5 L286.3 653.5 L285.8 648.5 L285.2 643.5 L284.7 638.5 L284.1 633.5 L283.6 628.5 L283.1 623.5 L282.5 618.5 L282.0 613.5 L281.4 608.5 L280.9 603.5 L280.4 598.5 L279.8 593.5 L279.3 588.5 L278.7 583.5 L278.2 578.5 L277.6 573.5 L277.1 568.5 L276.5 563.5 L276.0 558.5 L275.4 553.5 L274.9 548.5 L274.3 543.5 L273.8 538.5 L273.2 533.5 L272.7 528.5 L272.1 523.5 L271.6 518.5 L271.0 513.5 L270.4 508.5 L269.9 503.5 L269.3 498.5 L268.8 493.5 L268.2 488.5 L267.7 483.5 L267.1 478.5 L266.5 473.5 L266.0 468.5 L265.4 463.5 L264.9 458.5 L264.3 453.5 L263.7 448.5 L263.2 443.5 L262.6 438.5 L262.0 433.5 L261.5 428.5 L260.9 423.5 L260.3 418.5 L259.8 413.5 L259.2 408.5 L258.6 403.5 L258.0 398.5 L257.5 393.5 L256.9 388.5 L256.3 383.5 L255.8 378.5 L255.2 373.5 L254.6 368.5 L254.0 363.5 L253.5 358.5 L252.9 353.5 L252.3 348.5 L251.7 343.5 L251.1 338.5 L250.6 333.5 L250.0 328.5 L249.4 323.5 L248.8 318.5 L248.2 313.5 L247.6 308.5 L247.1 303.5 L246.5 298.5 L245.9 293.5 L245.3 288.5 L244.7 283.5 L244.1 278.5 L243.5 273.5 L242.9 268.5 L242.4 263.5 L241.8 258.5 L241.2 253.5 L240.6 248.5 L240.0 243.5 L239.4 238.5 L238.8 233.5 L238.2 228.5 L237.6 223.5 L237.0 218.5 L236.4 213.5 L235.8 208.5 L235.2 203.5 L234.6 198.5 L234.0 193.5 L233.4 188.5 L232.8 183.5 L232.2 178.5 L231.6 173.5 L231.0 168.5 L230.4 163.5 L229.8 158.5 L229.1 153.5 L228.5 148.5 L227.9 143.5 L227.3 138.5 L226.7 133.5 L226.1 128.5 L225.5 123.5 L224.9 118.5 L224.2 113.5 L223.6 108.5 L223.0 103.5 L222.4 98.5 L221.8 93.5 L221.2 88.5 L220.5 83.5 L219.9 78.5 L219.3 73.5 L218.7 68.5 L218.0 63.5 L217.4 58.5 L216.8 53.5M362.5 768.5 L362.0 763.5 L361.4 758.5 L360.8 753.5 L360.3 748.5 L359.7 743.5 L359.1 738.5 L358.6 733.5 L358.0 728.5 L357.4 723.5 L356.9 718.5 L356.3 713.5 L355.7 708.5 L355.1 703.5 L354.6 698.5 L354.0 693.5 L353.4 688.5 L352.9 683.5 L352.3 678.5 L351.7 673.5 L351.1 668.5 L350.5 663.5 L350.0 658.5 L349.4 653.5 L348.8 648.5 L348.2 643.5 L347.7 638.5 L347.1 633.5 L346.5 628.5 L345.9 623.5 L345.3 618.5 L344.7 613.5 L344.2 608.5 L343.6 603.5 L343.0 598.5 L342.4 593.5 L341.8 588.5 L341.2 583.5 L340.6 578.5 L340.0 573.5 L339.5 568.5 L338.9 563.5 L338.3 558.5 L337.7 553.5 L337.1 548.5 L336.5 543.5 L335.9 538.5 L335.3 533.5 L334.7 528.5 L334.1 523.5 L333.5 518.5 L332.9 513.5 L332.3 508.5 L331.7 503.5 L331.1 498.5 L330.5 493.5 L329.9 488.5 L329.3 483.5 L328.7 478.5 L328.1 473.5 L327.5 468.5 L326.9 463.5 L326.3 458.5 L325.7 453.5 L325.1 448.5 L324.5 443.5 L323.9 438.5 L323.3 433.5 L322.7 428.5 L322.1 423.5 L321.4 418.5 L320.8 413.5 L320.2 408.5 L319.6 403.5 L319.0 398.5 L318.4 393.5 L317.8 388.5 L317.1 383.5 L316.5 378.5 L315.9 373.5 L315.3 368.5 L314.7 363.5 L314.1 358.5 L313.4 353.5 L312.8 348.5 L312.2 343.5 L311.6 338.5 L310.9 333.5 L310.3 328.5 L309.7 323.5 L309.1 318.5 L308.4 313.5 L307.8 308.5 L307.2 303.5 L306.6 298.5 L305.9 293.5 L305.3 288.5 L304.7 283.5 L304.0 278.5 L303.4 273.5 L302.8 268.5 L302.1 263.5 L301.5 258.5 L300.9 253.5 L300.2 248.5 L299.6 243.5 L298.9 238.5 L298.3 233.5 L297.7 228.5 L297.0 223.5 L296.4 218.5 L295.7 213.5 L295.1 208.5 L294.4 203.5 L293.8 198.5 L293.1 193.5 L292.5 188.5 L291.8 183.5 L291.2 178.5 L290.5 173.5 L289.9 168.5 L289.2 163.5 L288.6 158.5 L287.9 153.5 L287.3 148.5 L286.6 143.5 L286.0 138.5 L285.3 133.5 L284.7 128.5 L284.0 123.5 L283.3 118.5 L282.7 113.5 L282.0 108.5 L281.3 103.5 L280.7 98.5 L280.0 93.5 L279.4 88.5 L278.7 83.5 L278.0 78.5 L277.4 73.5 L276.7 68.5 L276.0 63.5 L275.3 58.5 L274.7 53.5M431.4 768.5 L430.8 763.5 L430.2 758.5 L429.6 753.5 L429.0 748.5 L428.4 743.5 L427.8 738.5 L427.2 733.5 L426.5 728.5 L425.9 723.5 L425.3 718.5 L424.7 713.5 L424.1 708.5 L423.5 703.5 L422.8 698.5 L422.2 693.5 L421.6 688.5 L421.0 683.5 L420.4 678.5 L419.7 673.5 L419.1 668.5 L418.5 663.5 L417.9 658.5 L417.2 653.5 L416.6 648.5 L416.0 643.5 L415.4 638.5 L414.7 633.5 L414.1 628.5 L413.5 623.5 L412.9 618.5 L412.2 613.5 L411.6 608.5 L411.0 603.5 L410.3 598.5 L409.7 593.5 L409.1 588.5 L408.4 583.5 L407.8 578.5 L407.2 573.5 L406.5 568.5 L405.9 563.5 L405.2 558.5 L404.6 553.5 L404.0 548.5 L403.3 543.5 L402.7 538.5 L402.0 533.5 L401.4 528.5 L400.8 523.5 L400.1 518.5 L399.5 513.5 L398.8 508.5 L398.2 503.5 L397.5 498.5 L396.9 493.5 L396.2 488.5 L395.6 483.5 L394.9 478.5 L394.3 473.5 L393.6 468.5 L393.0 463.5 L392.3 458.5 L391.7 453.5 L391.0 448.5 L390.4 443.5 L389.7 438.5 L389.1 433.5 L388.4 428.5 L387.8 423.5 L387.1 418.5 L386.4 413.5 L385.8 408.5 L385.1 403.5 L384.5 398.5 L383.8 393.5 L383.1 388.5 L382.5 383.5 L381.8 378.5 L381.1 373.5 L380.5 368.5 L379.8 363.5 L379.1 358.5 L378.5 353.5 L377.8 348.5 L377.1 343.5 L376.4 338.5 L375.8 333.5 L375.1 328.5 L374.4 323.5 L373.8 318.5 L373.1 313.5 L372.4 308.5 L371.7 303.5 L371.0 298.5 L370.4 293.5 L369.7 288.5 L369.0 283.5 L368.3 278.5 L367.6 273.5 L367.0 268.5 L366.3 263.5 L365.6 258.5 L364.9 253.5 L364.2 248.5 L363.5 243.5 L362.8 238.5 L362.2 233.5 L361.5 228.5 L360.8 223.5 L360.1 218.5 L359.4 213.5 L358.7 208.5 L358.0 203.5 L357.3 198.5 L356.6 193.5 L355.9 188.5 L355.2 183.5 L354.5 178.5 L353.8 173.5 L353.1 168.5 L352.4 163.5 L351.7 158.5 L351.0 153.5 L350.3 148.5 L349.6 143.5 L348.9 138.5 L348.2 133.5 L347.5 128.5 L346.8 123.5 L346.0 118.5 L345.3 113.5 L344.6 108.5 L343.9 103.5 L343.2 98.5 L342.5 93.5 L341.8 88.5 L341.0 83.5 L340.3 78.5 L339.6 73.5 L338.9 68.5 L338.2 63.5 L337.4 58.5 L336.7 53.5M490.9 768.5 L490.2 763.5 L489.6 758.5 L488.9 753.5 L488.3 748.5 L487.6 743.5 L487.0 738.5 L486.3 733.5 L485.7 728.5 L485.0 723.5 L484.4 718.5 L483.7 713.5 L483.0 708.5 L482.4 703.5 L481.7 698.5 L481.1 693.5 L480.4 688.5 L479.7 683.5 L479.1 678.5 L478.4 673.5 L477.8 668.5 L477.1 663.5 L476.4 658.5 L475.8 653.5 L475.1 648.5 L474.4 643.5 L473.8 638.5 L473.1 633.5 L472.4 628.5 L471.8 623.5 L471.1 618.5 L470.4 613.5 L469.7 608.5 L469.1 603.5 L468.4 598.5 L467.7 593.5 L467.0 588.5 L466.4 583.5 L465.7 578.5 L465.0 573.5 L464.3 568.5 L463.7 563.5 L463.0 558.5 L462.3 553.5 L461.6 548.5 L460.9 543.5 L460.3 538.5 L459.6 533.5 L458.9 528.5 L458.2 523.5 L457.5 518.5 L456.8 513.5 L456.1 508.5 L455.5 503.5 L454.8 498.5 L454.1 493.5 L453.4 488.5 L452.7 483.5 L452.0 478.5 L451.3 473.5 L450.6 468.5 L449.9 463.5 L449.2 458.5 L448.5 453.5 L447.8 448.5 L447.1 443.5 L446.5 438.5 L445.8 433.5 L445.1 428.5 L444.4 423.5 L443.7 418.5 L442.9 413.5 L442.2 408.5 L441.5 403.5 L440.8 398.5 L440.1 393.5 L439.4 388.5 L438.7 383.5 L438.0 378.5 L437.3 373.5 L436.6 368.5 L435.9 363.5 L435.2 358.5 L434.5 353.5 L433.7 348.5 L433.0 343.5 L432.3 338.5 L431.6 333.5 L430.9 328.5 L430.2 323.5 L429.5 318.5 L428.7 313.5 L428.0 308.5 L427.3 303.5 L426.6 298.5 L425.9 293.5 L425.1 288.5 L424.4 283.5 L423.7 278.5 L423.0 273.5 L422.2 268.5 L421.5 263.5 L420.8 258.5 L420.0 253.5 L419.3 248.5 L418.6 243.5 L417.8 238.5 L417.1 233.5 L416.4 228.5 L415.6 223.5 L414.9 218.5 L414.2 213.5 L413.4 208.5 L412.7 203.5 L412.0 198.5 L411.2 193.5 L410.5 188.5 L409.7 183.5 L409.0 178.5 L408.2 173.5 L407.5 168.5 L406.7 163.5 L406.0 158.5 L405.3 153.5 L404.5 148.5 L403.8 143.5 L403.0 138.5 L402.2 133.5 L401.5 128.5 L400.7 123.5 L400.0 118.5 L399.2 113.5 L398.5 108.5 L397.7 103.5 L397.0 98.5 L396.2 93.5 L395.4 88.5 L394.7 83.5 L393.9 78.5 L393.1 73.5 L392.4 68.5 L391.6 63.5 L390.8 58.5 L390.1 53.5M530.7 768.5 L530.0 763.5 L529.3 758.5 L528.6 753.5 L527.9 748.5 L527.3 743.5 L526.6 738.5 L525.9 733.5 L525.2 728.5 L524.5 723.5 L523.8 718.5 L523.2 713.5 L522.5 708.5 L521.8 703.5 L521.1 698.5 L520.4 693.5 L519.7 688.5 L519.0 683.5 L518.3 678.5 L517.7 673.5 L517.0 668.5 L516.3 663.5 L515.6 658.5 L514.9 653.5 L514.2 648.5 L513.5 643.5 L512.8 638.5 L512.1 633.5 L511.4 628.5 L510.7 623.5 L510.0 618.5 L509.3 613.5 L508.6 608.5 L507.9 603.5 L507.2 598.5 L506.5 593.5 L505.8 588.5 L505.1 583.5 L504.4 578.5 L503.7 573.5 L503.0 568.5 L502.3 563.5 L501.6 558.5 L500.9 553.5 L500.1 548.5 L499.4 543.5 L498.7 538.5 L498.0 533.5 L497.3 528.5 L496.6 523.5 L495.9 518.5 L495.2 513.5 L494.4 508.5 L493.7 503.5 L493.0 498.5 L492.3 493.5 L491.6 488.5 L490.9 483.5 L490.1 478.5 L489.4 473.5 L488.7 468.5 L488.0 463.5 L487.2 458.5 L486.5 453.5 L485.8 448.5 L485.1 443.5 L484.3 438.5 L483.6 433.5 L482.9 428.5 L482.2 423.5 L481.4 418.5 L480.7 413.5 L480.0 408.5 L479.2 403.5 L478.5 398.5 L477.8 393.5 L477.0 388.5 L476.3 383.5 L475.6 378.5 L474.8 373.5 L474.1 368.5 L473.3 363.5 L472.6 358.5 L471.9 353.5 L471.1 348.5 L470.4 343.5 L469.6 338.5 L468.9 333.5 L468.1 328.5 L467.4 323.5 L466.6 318.5 L465.9 313.5 L465.1 308.5 L464.4 303.5 L463.6 298.5 L462.9 293.5 L462.1 288.5 L461.4 283.5 L460.6 278.5 L459.9 273.5 L459.1 268.5 L458.4 263.5 L457.6 258.5 L456.8 253.5 L456.1 248.5 L455.3 243.5 L454.6 238.5 L453.8 233.5 L453.0 228.5 L452.3 223.5 L451.5 218.5 L450.7 213.5 L450.0 208.5 L449.2 203.5 L448.4 198.5 L447.7 193.5 L446.9 188.5 L446.1 183.5 L445.3 178.5 L444.6 173.5 L443.8 168.5 L443.0 163.5 L442.2 158.5 L441.4 153.5 L440.7 148.5 L439.9 143.5 L439.1 138.5 L438.3 133.5 L437.5 128.5 L436.8 123.5 L436.0 118.5 L435.2 113.5 L434.4 108.5 L433.6 103.5 L432.8 98.5 L432.0 93.5 L431.2 88.5 L430.4 83.5 L429.6 78.5 L428.8 73.5 L428.1 68.5 L427.3 63.5 L426.5 58.5 L425.7 53.5M585.3 768.5 L584.6 763.5 L583.9 758.5 L583.1 753.5 L582.4 748.5 L581.7 743.5 L581.0 738.5 L580.3 733.5 L579.5 728.5 L578.8 723.5 L578.1 718.5 L577.4 713.5 L576.6 708.5 L575.9 703.5 L575.2 698.5 L574.5 693.5 L573.7 688.5 L573.0 683.5 L572.3 678.5 L571.6 673.5 L570.8 668.5 L570.1 663.5 L569.4 658.5 L568.6 653.5 L567.9 648.5 L567.2 643.5 L566.4 638.5 L565.7 633.5 L564.9 628.5 L564.2 623.5 L563.5 618.5 L562.7 613.5 L562.0 608.5 L561.2 603.5 L560.5 598.5 L559.8 593.5 L559.0 588.5 L558.3 583.5 L557.5 578.5 L556.8 573.5 L556.0 568.5 L555.3 563.5 L554.5 558.5 L553.8 553.5 L553.0 548.5 L552.3 543.5 L551.5 538.5 L550.8 533.5 L550.0 528.5 L549.3 523.5 L548.5 518.5 L547.8 513.5 L547.0 508.5 L546.3 503.5 L545.5 498.5 L544.7 493.5 L544.0 488.5 L543.2 483.5 L542.5 478.5 L541.7 473.5 L540.9 468.5 L540.2 463.5 L539.4 458.5 L538.7 453.5 L537.9 448.5 L537.1 443.5 L536.4 438.5 L535.6 433.5 L534.8 428.5 L534.0 423.5 L533.3 418.5 L532.5 413.5 L531.7 408.5 L531.0 403.5 L530.2 398.5 L529.4 393.5 L528.6 388.5 L527.8 383.5 L527.1 378.5 L526.3 373.5 L525.5 368.5 L524.7 363.5 L523.9 358.5 L523.2 353.5 L522.4 348.5 L521.6 343.5 L520.8 338.5 L520.0 333.5 L519.2 328.5 L518.4 323.5 L517.7 318.5 L516.9 313.5 L516.1 308.5 L515.3 303.5 L514.5 298.5 L513.7 293.5 L512.9 288.5 L512.1 283.5 L511.3 278.5 L510.5 273.5 L509.7 268.5 L508.9 263.5 L508.1 258.5 L507.3 253.5 L506.5 248.5 L505.7 243.5 L504.9 238.5 L504.1 233.5 L503.3 228.5 L502.5 223.5 L501.7 218.5 L500.9 213.5 L500.1 208.5 L499.2 203.5 L498.4 198.5 L497.6 193.5 L496.8 188.5 L496.0 183.5 L495.2 178.5 L494.4 173.5 L493.5 168.5 L492.7 163.5 L491.9 158.5 L491.1 153.5 L490.3 148.5 L489.4 143.5 L488.6 138.5 L487.8 133.5 L487.0 128.5 L486.1 123.5 L485.3 118.5 L484.5 113.5 L483.6 108.5 L482.8 103.5 L482.0 98.5 L481.1 93.5 L480.3 88.5 L479.5 83.5 L478.6 78.5 L477.8 73.5 L476.9 68.5 L476.1 63.5 L475.3 58.5 L474.4 53.5M634.4 768.5 L633.7 763.5 L632.9 758.5 L632.2 753.5 L631.4 748.5 L630.7 743.5 L629.9 738.5 L629.2 733.5 L628.4 728.5 L627.6 723.5 L626.9 718.5 L626.1 713.5 L625.4 708.5 L624.6 703.5 L623.8 698.5 L623.1 693.5 L622.3 688.5 L621.5 683.5 L620.8 678.5 L620.0 673.5 L619.2 668.5 L618.5 663.5 L617.7 658.5 L616.9 653.5 L616.2 648.5 L615.4 643.5 L614.6 638.5 L613.8 633.5 L613.1 628.5 L612.3 623.5 L611.5 618.5 L610.7 613.5 L610.0 608.5 L609.2 603.5 L608.4 598.5 L607.6 593.5 L606.9 588.5 L606.1 583.5 L605.3 578.5 L604.5 573.5 L603.7 568.5 L602.9 563.5 L602.2 558.5 L601.4 553.5 L600.6 548.5 L599.8 543.5 L599.0 538.5 L598.2 533.5 L597.4 528.5 L596.6 523.5 L595.8 518.5 L595.1 513.5 L594.3 508.5 L593.5 503.5 L592.7 498.5 L591.9 493.5 L591.1 488.5 L590.3 483.5 L589.5 478.5 L588.7 473.5 L587.9 468.5 L587.1 463.5 L586.3 458.5 L585.5 453.5 L584.7 448.5 L583.9 443.5 L583.1 438.5 L582.3 433.5 L581.5 428.5 L580.6 423.5 L579.8 418.5 L579.0 413.5 L578.2 408.5 L577.4 403.5 L576.6 398.5 L575.8 393.5 L575.0 388.5 L574.1 383.5 L573.3 378.5 L572.5 373.5 L571.7 368.5 L570.9 363.5 L570.1 358.5 L569.2 353.5 L568.4 348.5 L567.6 343.5 L566.8 338.5 L565.9 333.5 L565.1 328.5 L564.3 323.5 L563.5 318.5 L562.6 313.5 L561.8 308.5 L561.0 303.5 L560.1 298.5 L559.3 293.5 L558.5 288.5 L557.6 283.5 L556.8 278.5 L556.0 273.5 L555.1 268.5 L554.3 263.5 L553.5 258.5 L552.6 253.5 L551.8 248.5 L550.9 243.5 L550.1 238.5 L549.2 233.5 L548.4 228.5 L547.6 223.5 L546.7 218.5 L545.9 213.5 L545.0 208.5 L544.2 203.5 L543.3 198.5 L542.5 193.5 L541.6 188.5 L540.8 183.5 L539.9 178.5 L539.0 173.5 L538.2 168.5 L537.3 163.5 L536.5 158.5 L535.6 153.5 L534.7 148.5 L533.9 143.5 L533.0 138.5 L532.1 133.5 L531.3 128.5 L530.4 123.5 L529.5 118.5 L528.7 113.5 L527.8 108.5 L526.9 103.5 L526.1 98.5 L525.2 93.5 L524.3 88.5 L523.4 83.5 L522.6 78.5 L521.7 73.5 L520.8 68.5 L519.9 63.5 L519.0 58.5 L518.2 53.5M670.4 768.5 L669.6 763.5 L668.8 758.5 L668.0 753.5 L667.2 748.5 L666.5 743.5 L665.7 738.5 L664.9 733.5 L664.1 728.5 L663.3 723.5 L662.5 718.5 L661.7 713.5 L661.0 708.5 L660.2 703.5 L659.4 698.5 L658.6 693.5 L657.8 688.5 L657.0 683.5 L656.2 678.5 L655.4 673.5 L654.6 668.5 L653.8 663.5 L653.0 658.5 L652.2 653.5 L651.4 648.5 L650.6 643.5 L649.8 638.5 L649.0 633.5 L648.2 628.5 L647.4 623.5 L646.6 618.5 L645.8 613.5 L645.0 608.5 L644.2 603.5 L643.4 598.5 L642.6 593.5 L641.8 588.5 L641.0 583.5 L640.2 578.5 L639.4 573.5 L638.6 568.5 L637.7 563.5 L636.9 558.5 L636.1 553.5 L635.3 548.5 L634.5 543.5 L633.7 538.5 L632.9 533.5 L632.0 528.5 L631.2 523.5 L630.4 518.5 L629.6 513.5 L628.8 508.5 L627.9 503.5 L627.1 498.5 L626.3 493.5 L625.5 488.5 L624.6 483.5 L623.8 478.5 L623.0 473.5 L622.2 468.5 L621.3 463.5 L620.5 458.5 L619.7 453.5 L618.8 448.5 L618.0 443.5 L617.2 438.5 L616.3 433.5 L615.5 428.5 L614.7 423.5 L613.8 418.5 L613.0 413.5 L612.2 408.5 L611.3 403.5 L610.5 398.5 L609.6 393.5 L608.8 388.5 L607.9 383.5 L607.1 378.5 L606.3 373.5 L605.4 368.5 L604.6 363.5 L603.7 358.5 L602.9 353.5 L602.0 348.5 L601.2 343.5 L600.3 338.5 L599.5 333.5 L598.6 328.5 L597.7 323.5 L596.9 318.5 L596.0 313.5 L595.2 308.5 L594.3 303.5 L593.5 298.5 L592.6 293.5 L591.7 288.5 L590.9 283.5 L590.0 278.5 L589.1 273.5 L588.3 268.5 L587.4 263.5 L586.5 258.5 L585.7 253.5 L584.8 248.5 L583.9 243.5 L583.1 238.5 L582.2 233.5 L581.3 228.5 L580.4 223.5 L579.6 218.5 L578.7 213.5 L577.8 208.5 L576.9 203.5 L576.0 198.5 L575.2 193.5 L574.3 188.5 L573.4 183.5 L572.5 178.5 L571.6 173.5 L570.7 168.5 L569.9 163.5 L569.0 158.5 L568.1 153.5 L567.2 148.5 L566.3 143.5 L565.4 138.5 L564.5 133.5 L563.6 128.5 L562.7 123.5 L561.8 118.5 L560.9 113.5 L560.0 108.5 L559.1 103.5 L558.2 98.5 L557.3 93.5 L556.4 88.5 L555.5 83.5 L554.6 78.5 L553.7 73.5 L552.8 68.5 L551.9 63.5 L550.9 58.5 L550.0 53.5M698.8 768.5 L698.0 763.5 L697.2 758.5 L696.3 753.5 L695.5 748.5 L694.7 743.5 L693.9 738.5 L693.1 733.5 L692.3 728.5 L691.5 723.5 L690.7 718.5 L689.9 713.5 L689.1 708.5 L688.3 703.5 L687.5 698.5 L686.6 693.5 L685.8 688.5 L685.0 683.5 L684.2 678.5 L683.4 673.5 L682.6 668.5 L681.8 663.5 L680.9 658.5 L680.1 653.5 L679.3 648.5 L678.5 643.5 L677.7 638.5 L676.8 633.5 L676.0 628.5 L675.2 623.5 L674.4 618.5 L673.5 613.5 L672.7 608.5 L671.9 603.5 L671.1 598.5 L670.2 593.5 L669.4 588.5 L668.6 583.5 L667.7 578.5 L666.9 573.5 L666.1 568.5 L665.2 563.5 L664.4 558.5 L663.6 553.5 L662.7 548.5 L661.9 543.5 L661.1 538.5 L660.2 533.5 L659.4 528.5 L658.5 523.5 L657.7 518.5 L656.9 513.5 L656.0 508.5 L655.2 503.5 L654.3 498.5 L653.5 493.5 L652.6 488.5 L651.8 483.5 L650.9 478.5 L650.1 473.5 L649.2 468.5 L648.4 463.5 L647.5 458.5 L646.7 453.5 L645.8 448.5 L645.0 443.5 L644.1 438.5 L643.3 433.5 L642.4 428.5 L641.5 423.5 L640.7 418.5 L639.8 413.5 L639.0 408.5 L638.1 403.5 L637.2 398.5 L636.4 393.5 L635.5 388.5 L634.6 383.5 L633.8 378.5 L632.9 373.5 L632.0 368.5 L631.2 363.5 L630.3 358.5 L629.4 353.5 L628.5 348.5 L627.7 343.5 L626.8 338.5 L625.9 333.5 L625.0 328.5 L624.2 323.5 L623.3 318.5 L622.4 313.5 L621.5 308.5 L620.6 303.5 L619.8 298.5 L618.9 293.5 L618.0 288.5 L617.1 283.5 L616.2 278.5 L615.3 273.5 L614.4 268.5 L613.5 263.5 L612.7 258.5 L611.8 253.5 L610.9 248.5 L610.0 243.5 L609.1 238.5 L608.2 233.5 L607.3 228.5 L606.4 223.5 L605.5 218.5 L604.6 213.5 L603.7 208.5 L602.8 203.5 L601.9 198.5 L601.0 193.5 L600.1 188.5 L599.2 183.5 L598.3 178.5 L597.3 173.5 L596.4 168.5 L595.5 163.5 L594.6 158.5 L593.7 153.5 L592.8 148.5 L591.9 143.5 L591.0 138.5 L590.0 133.5 L589.1 128.5 L588.2 123.5 L587.3 118.5 L586.4 113.5 L585.4 108.5 L584.5 103.5 L583.6 98.5 L582.7 93.5 L581.7 88.5 L580.8 83.5 L579.9 78.5 L578.9 73.5 L578.0 68.5 L577.1 63.5 L576.1 58.5 L575.2 53.5"/>
</g>
<g shape-rendering="auto">
<text transform="translate(223 11) rotate(0.03) scale(1.0 1)" y="0" xml:space="preserve"><tspan class="tm" x="-0.16 6.84 13.84 20.84 27.84 34.84 41.84 48.84">WRF-GFS </tspan><tspan class="td" x="56.67">4</tspan><tspan class="tm" x="62.84">/</tspan><tspan class="td" x="70.67">3</tspan><tspan class="tm" x="76.84 83.84 90.84 97.84 104.84">-km, </tspan><tspan class="td" x="112.67 119.67">00</tspan><tspan class="tm" x="125.84 132.84">Z </tspan><tspan class="td" x="140.68 147.68">20</tspan><tspan class="tm" x="153.84 160.84 167.84">Jul</tspan><tspan class="td" x="175.68 182.68 189.68 196.68 203.68">22 39</tspan><tspan class="tm" x="209.84 216.84 223.84 230.84 237.84 244.84 251.84 258.84 265.84 272.84">-hr Valid </tspan><tspan class="td" x="280.68 287.68">15</tspan><tspan class="tm" x="293.84 300.84">Z </tspan><tspan class="td" x="308.68 315.68">21</tspan><tspan class="tm" x="321.84 328.84 335.84">Jul</tspan><tspan class="td" x="343.68 350.68 357.68">22 </tspan><tspan class="tm" x="363.84 370.84 377.84 384.84 391.84 398.84 405.84 412.84 419.84 426.84 433.84 440.84 447.84">Ellensburg WA</tspan></text>
<text transform="translate(47 26) rotate(0.03) scale(1.0 1)" y="0" xml:space="preserve"><tspan class="td" x="0.67 7.67 14.68 21.68 28.68 35.67">220721</tspan><tspan class="tm" x="41.84">/</tspan><tspan class="td" x="49.67 56.67 63.67 70.67 77.67 84.67 91.67 98.67 105.67 112.67 119.67 126.67">1500 99999  </tspan><tspan class="tm" x="132.84 139.84 146.84 153.84 160.84 167.84 174.84 181.84 188.84 195.84 202.84 209.84 216.84 223.84 230.84 237.84 244.84 251.84">KELN    CAPE:     </tspan><tspan class="td" x="259.68 266.68">0 </tspan><tspan class="tm" x="272.84 279.84 286.84 293.84 300.84 307.84 314.84 321.84 328.84 335.84">LIFT:     </tspan><tspan class="td" x="343.68 350.68">8 </tspan><tspan class="tm" x="356.84 363.84 370.84 377.84 384.84 391.84 398.84 405.84 412.84 419.84">KINX:    -</tspan><tspan class="td" x="427.68 434.68">7 </tspan><tspan class="tm" x="440.84 447.84 454.84 461.84 468.84 475.84 482.84 489.84 496.84 503.84">CINS:     </tspan><tspan class="td" x="511.68 518.67">0 </tspan><tspan class="tm" x="524.84 531.84 538.84 545.84 552.84 559.84 566.84">LFCV: -</tspan><tspan class="td" x="574.67 581.67 588.67 595.67">9999</tspan></text>
<text class="d" transform="translate(19 56) rotate(0.03) scale(1.08 1.0)" x="0.38 6.86 13.34" y="0">400</text>
<text class="d" transform="translate(19 205) rotate(0.03) scale(1.08 1.0)" x="0.38 6.86 13.34" y="0">500</text>
<text class="d" transform="translate(19 333) rotate(0.03) scale(1.08 1.0)" x="0.38 6.86 13.34" y="0">600</text>
<text class="d" transform="translate(19 447) rotate(0.03) scale(1.08 1.0)" x="0.38 6.86 13.34" y="0">700</text>
<text class="d" transform="translate(19 550) rotate(0.03) scale(1.08 1.0)" x="0.38 6.86 13.34" y="0">800</text>
<text class="d" transform="translate(19 644) rotate(0.03) scale(1.08 1.0)" x="0.38 6.86 13.34" y="0">900</text>
<text class="d" transform="translate(11 731) rotate(0.03) scale(1.08 1.0)" x="0.38 6.86 13.34 19.82" y="0">1000</text>
<text class="d" transform="translate(38 787) rotate(0.03) scale(1.08 1.0)" x="-0.46 6.86 13.34" y="0"><tspan class="m">-</tspan>50</text>
<text class="d" transform="translate(113 787) rotate(0.03) scale(1.08 1.0)" x="-0.46 6.86 13.34" y="0"><tspan class="m">-</tspan>40</text>
<text class="d" transform="translate(187 787) rotate(0.03) scale(1.08 1.0)" x="-0.46 6.86 13.34" y="0"><tspan class="m">-</tspan>30</text>
<text class="d" transform="translate(262 787) rotate(0.03) scale(1.08 1.0)" x="-0.46 6.86 13.34" y="0"><tspan class="m">-</tspan>20</text>
<text class="d" transform="translate(337 787) rotate(0.03) scale(1.08 1.0)" x="-0.46 6.86 13.34" y="0"><tspan class="m">-</tspan>10</text>
<text class="d" transform="translate(419 787) rotate(0.03) scale(1.08 1.0)" x="0.38" y="0">0</text>
<text class="d" transform="translate(490 787) rotate(0.03) scale(1.08 1.0)" x="0.38 6.86" y="0">10</text>
<text class="d" transform="translate(564 787) rotate(0.03) scale(1.08 1.0)" x="0.38 6.86" y="0">20</text>
<text class="d" transform="translate(639 787) rotate(0.03) scale(1.08 1.0)" x="0.38 6.86" y="0">30</text>
<text class="d" transform="translate(713 787) rotate(0.03) scale(1.08 1.0)" x="0.38 6.86" y="0">40</text>
</g>
</svg>
</body></html>
